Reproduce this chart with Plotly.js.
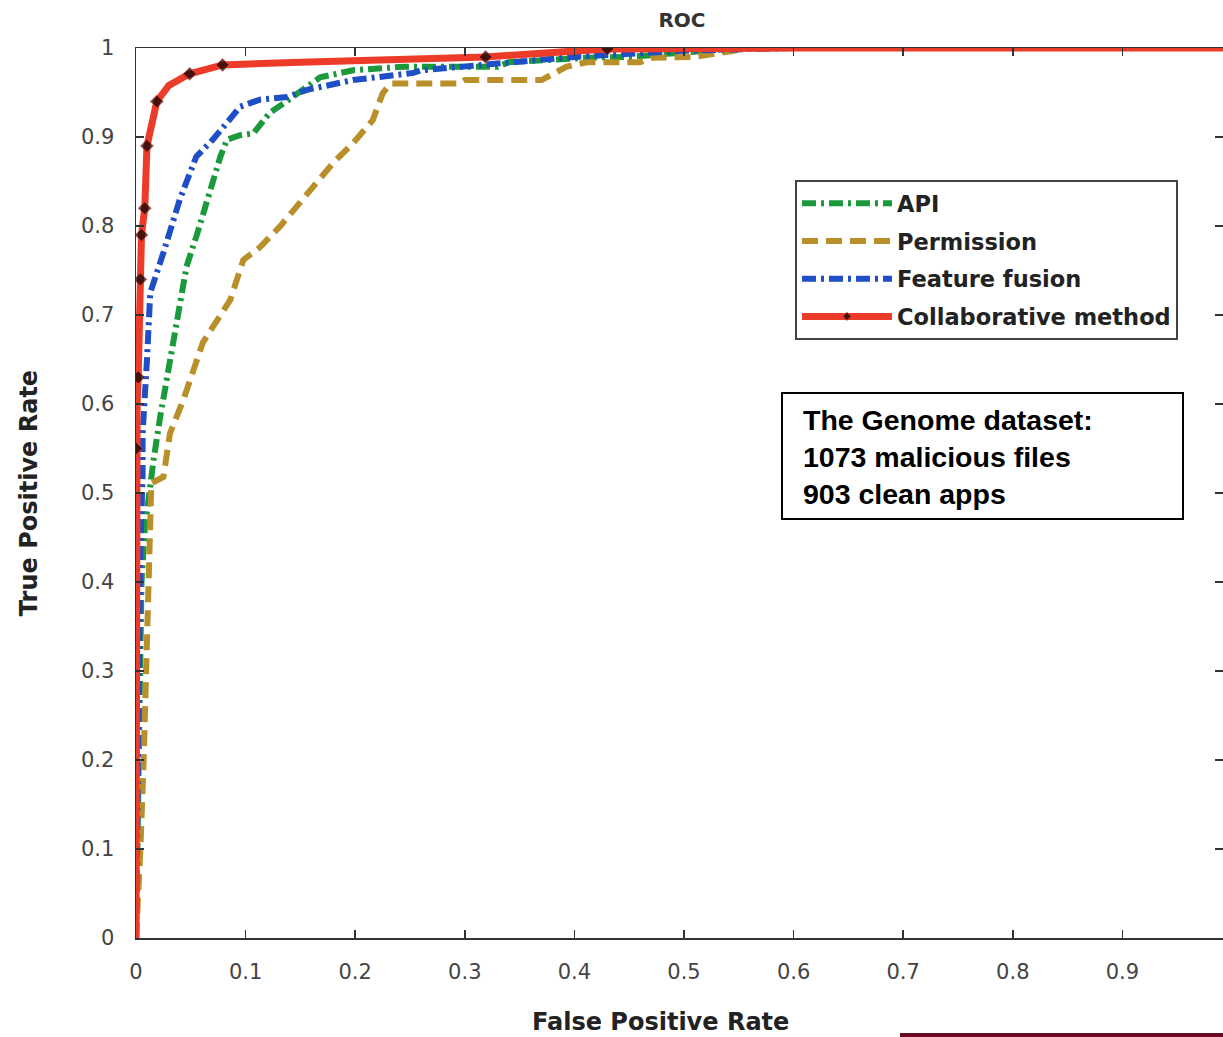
<!DOCTYPE html>
<html>
<head>
<meta charset="utf-8">
<script src="https://cdn.plot.ly/plotly-3.0.1.min.js"></script>
<style>html,body{margin:0;padding:0;background:#fff;}#chart{width:1223px;height:1037px;}</style>
</head>
<body>
<div id="chart"></div>
<script>
// ---- data ----
const seriesNames = ["API", "Permission", "Feature fusion", "Collaborative method"];

const apiFPR = [0, 0.001, 0.002, 0.003, 0.005, 0.008, 0.012, 0.016, 0.022, 0.031, 0.04, 0.046, 0.056, 0.065, 0.074, 0.077, 0.083, 0.095, 0.107, 0.122, 0.143, 0.168, 0.198, 0.244, 0.33, 0.34, 0.41, 0.45, 0.55, 0.7, 1];
const apiTPR = [0, 0.1, 0.2, 0.3, 0.4, 0.46, 0.5, 0.537, 0.585, 0.649, 0.706, 0.754, 0.792, 0.829, 0.866, 0.878, 0.897, 0.902, 0.904, 0.927, 0.945, 0.967, 0.975, 0.979, 0.979, 0.984, 0.989, 0.99, 1, 1, 1];

const permFPR = [0, 0.001, 0.004, 0.007, 0.01, 0.013, 0.014, 0.014, 0.025, 0.031, 0.043, 0.052, 0.061, 0.074, 0.086, 0.098, 0.113, 0.131, 0.152, 0.18, 0.198, 0.216, 0.225, 0.232, 0.295, 0.3, 0.37, 0.393, 0.411, 0.46, 0.47, 0.51, 0.56, 1];
const permTPR = [0, 0.02, 0.1, 0.2, 0.32, 0.44, 0.47, 0.511, 0.518, 0.567, 0.604, 0.635, 0.669, 0.694, 0.717, 0.762, 0.776, 0.799, 0.829, 0.871, 0.893, 0.919, 0.949, 0.96, 0.96, 0.964, 0.964, 0.979, 0.984, 0.984, 0.989, 0.99, 1, 1];

const fusionFPR = [0, 0.001, 0.002, 0.003, 0.004, 0.006, 0.006, 0.01, 0.013, 0.025, 0.04, 0.055, 0.07, 0.083, 0.095, 0.113, 0.138, 0.156, 0.198, 0.253, 0.26, 0.4, 0.5, 0.6, 1];
const fusionTPR = [0, 0.1, 0.3, 0.4, 0.44, 0.518, 0.567, 0.649, 0.725, 0.77, 0.83, 0.878, 0.897, 0.916, 0.934, 0.942, 0.945, 0.953, 0.964, 0.972, 0.975, 0.99, 0.997, 1, 1];

const collabFPR = [0, 0, 0.001, 0.002, 0.004, 0.005, 0.008, 0.01, 0.019, 0.03, 0.049, 0.079, 0.15, 0.319, 0.43, 0.6, 1];
const collabTPR = [0, 0.55, 0.6, 0.63, 0.74, 0.79, 0.82, 0.89, 0.94, 0.958, 0.971, 0.981, 0.984, 0.99, 0.999, 1, 1];
const collabMarked = [0, 1, 0, 1, 1, 1, 1, 1, 1, 0, 1, 1, 0, 1, 1, 0, 0];

const xTickVals = [0, 0.1, 0.2, 0.3, 0.4, 0.5, 0.6, 0.7, 0.8, 0.9, 1];
const xTickText = ["0", "0.1", "0.2", "0.3", "0.4", "0.5", "0.6", "0.7", "0.8", "0.9", "1"];
const yTickVals = [0, 0.1, 0.2, 0.3, 0.4, 0.5, 0.6, 0.7, 0.8, 0.9, 1];
const yTickText = ["0", "0.1", "0.2", "0.3", "0.4", "0.5", "0.6", "0.7", "0.8", "0.9", "1"];

const chartTitle = "ROC";
const xTitle = "False Positive Rate";
const yTitle = "True Positive Rate";
const noteText = "The Genome dataset:<br>1073 malicious files<br>903 clean apps";

// ---- styling ----
const traces = [
  {x: apiFPR, y: apiTPR, name: seriesNames[0], legendgroup: "a", mode: "lines",
   line: {color: "#1b9a3c", width: 6, dash: "14px,5px,3px,5px"}},
  {x: permFPR, y: permTPR, name: seriesNames[1], legendgroup: "b", mode: "lines",
   line: {color: "#b98f2a", width: 6, dash: "16px,8px"}},
  {x: fusionFPR, y: fusionTPR, name: seriesNames[2], legendgroup: "c", mode: "lines",
   line: {color: "#1f4fc6", width: 6, dash: "14px,5px,3px,5px"}},
  {x: collabFPR, y: collabTPR, name: seriesNames[3], legendgroup: "d", mode: "lines+markers",
   line: {color: "#ec3b28", width: 7},
   marker: {symbol: "diamond", color: "#000", size: collabMarked.map(m => m ? 10 : 0)}}
];

const W = 1223, H = 1037;
const L = 136, T = 48, B = 99;
const PW = W - L, PH = H - T - B;
const xMax = (W - L) / 1096; // plot of the reference runs past the right edge
const px = v => (v - L) / PW;
const py = v => (H - B - v) / PH;

const layout = {
  width: W, height: H,
  paper_bgcolor: "#fff", plot_bgcolor: "#fff",
  margin: {l: L, r: 0, t: T, b: B, pad: 0},
  showlegend: true,
  title: {text: "<b>" + chartTitle + "</b>", x: 682 / W, xanchor: "center", y: 1 - 20 / H, yanchor: "middle",
          font: {family: "DejaVu Sans", size: 20, color: "#333"}},
  xaxis: {
    range: [0, xMax], tickvals: xTickVals, ticktext: xTickText,
    ticks: "inside", ticklen: 8, tickcolor: "#333", tickwidth: 1.5,
    showline: true, linecolor: "#333", linewidth: 1.5, mirror: "ticks",
    showgrid: false, zeroline: false, ticklabelstandoff: 14,
    tickfont: {family: "DejaVu Sans", size: 21, color: "#444"}
  },
  yaxis: {
    range: [0, 1], tickvals: yTickVals, ticktext: yTickText,
    ticks: "inside", ticklen: 8, tickcolor: "#333", tickwidth: 1.5,
    showline: true, linecolor: "#333", linewidth: 1.5, mirror: "ticks",
    showgrid: false, zeroline: false, ticklabelstandoff: 16,
    tickfont: {family: "DejaVu Sans", size: 21, color: "#444"},
    title: {text: "<b>" + yTitle + "</b>", standoff: 36, font: {family: "DejaVu Sans", size: 24, color: "#222"}}
  },
  legend: {
    x: px(795), xanchor: "left", y: py(180), yanchor: "top",
    bgcolor: "#fff", bordercolor: "#444", borderwidth: 2,
    font: {family: "DejaVu Sans", size: 22.5, color: "#222", weight: "bold"},
    itemwidth: 90, tracegroupgap: 5.5, entrywidth: 300
  },
  annotations: [
    {xref: "paper", yref: "paper", x: px(801), xanchor: "left", y: py(457), yanchor: "middle",
     text: "<b>" + noteText + "</b>", showarrow: false, align: "left",
     font: {family: "Liberation Sans", size: 28.5, color: "#000"}},
    {xref: "paper", yref: "paper", x: px(660), xanchor: "center", y: py(1022), yanchor: "middle",
     text: "<b>" + xTitle + "</b>", showarrow: false,
     font: {family: "DejaVu Sans", size: 24, color: "#222"}}
  ],
  shapes: [
    {type: "rect", xref: "paper", yref: "paper", layer: "below",
     x0: px(782), x1: px(1183), y0: py(519), y1: py(393),
     fillcolor: "#fff", line: {color: "#000", width: 2}},
    {type: "rect", xref: "paper", yref: "paper", layer: "above",
     x0: px(900), x1: 1, y0: py(1040), y1: py(1033),
     fillcolor: "#6b0a26", line: {width: 0}}
  ]
};

Plotly.newPlot("chart", traces, layout, {displayModeBar: false, staticPlot: true});
</script>
</body>
</html>
